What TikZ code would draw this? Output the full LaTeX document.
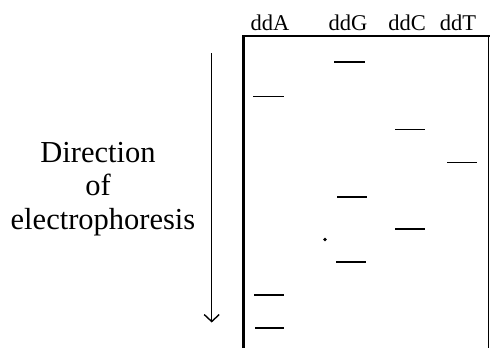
\documentclass[tikz,border=0pt]{standalone}
\usepackage{fontspec}
\setmainfont{Liberation Serif}
\usetikzlibrary{arrows.meta}
\begin{document}
\begin{tikzpicture}[x=1pt,y=-1pt,
  lanelabel/.style={anchor=base,inner sep=0pt,font=\fontsize{22.5}{24}\selectfont},
  dirtext/.style={anchor=base,inner sep=0pt,font=\fontsize{30.5}{33}\selectfont},
  band/.style={line width=1.6pt},
  gel/.style={line cap=rect}]
\useasboundingbox (0,0) rectangle (490,348);
% lane labels
\node[lanelabel] (lA) at (270,30) {ddA};
\node[lanelabel] (lG) at (348,30) {ddG};
\node[lanelabel] (lC) at (407,30) {ddC};
\node[lanelabel] (lT) at (458,30) {ddT};
% gel outline (open at bottom)
\draw[line width=3pt] (243,36) -- (243,348);
\draw[line width=2pt,gel] (243,36) -- (488.5,36);
\draw[line width=1.6pt] (488.5,36) -- (488.5,348);
% bands
\draw[band] (334,62) -- (365,62);
\draw[band] (253,96.5) -- (284,96.5);
\draw[band] (395,129.5) -- (425,129.5);
\draw[band] (447,162.5) -- (477,162.5);
\draw[band] (337,197) -- (367,197);
\draw[band] (395,229) -- (425,229);
\draw[band] (336,262) -- (366,262);
\draw[band] (254,295) -- (284,295);
\draw[band] (255,328) -- (284,328);
\fill (325,239.5) circle (1.8);
% direction arrow
\coordinate (atop) at (211.7,53);
\coordinate (abot) at (211.7,322.5);
\draw[line width=1.2pt,-{Straight Barb[length=7pt,width=15pt,line width=1.4pt]}] (atop) -- (abot);
% text
\node[dirtext] (t1) at (98,162) {Direction};
\node[dirtext] (t2) at (98,195) {of};
\node[dirtext] (t3) at (103,229) {electrophoresis};
\end{tikzpicture}
\end{document}
